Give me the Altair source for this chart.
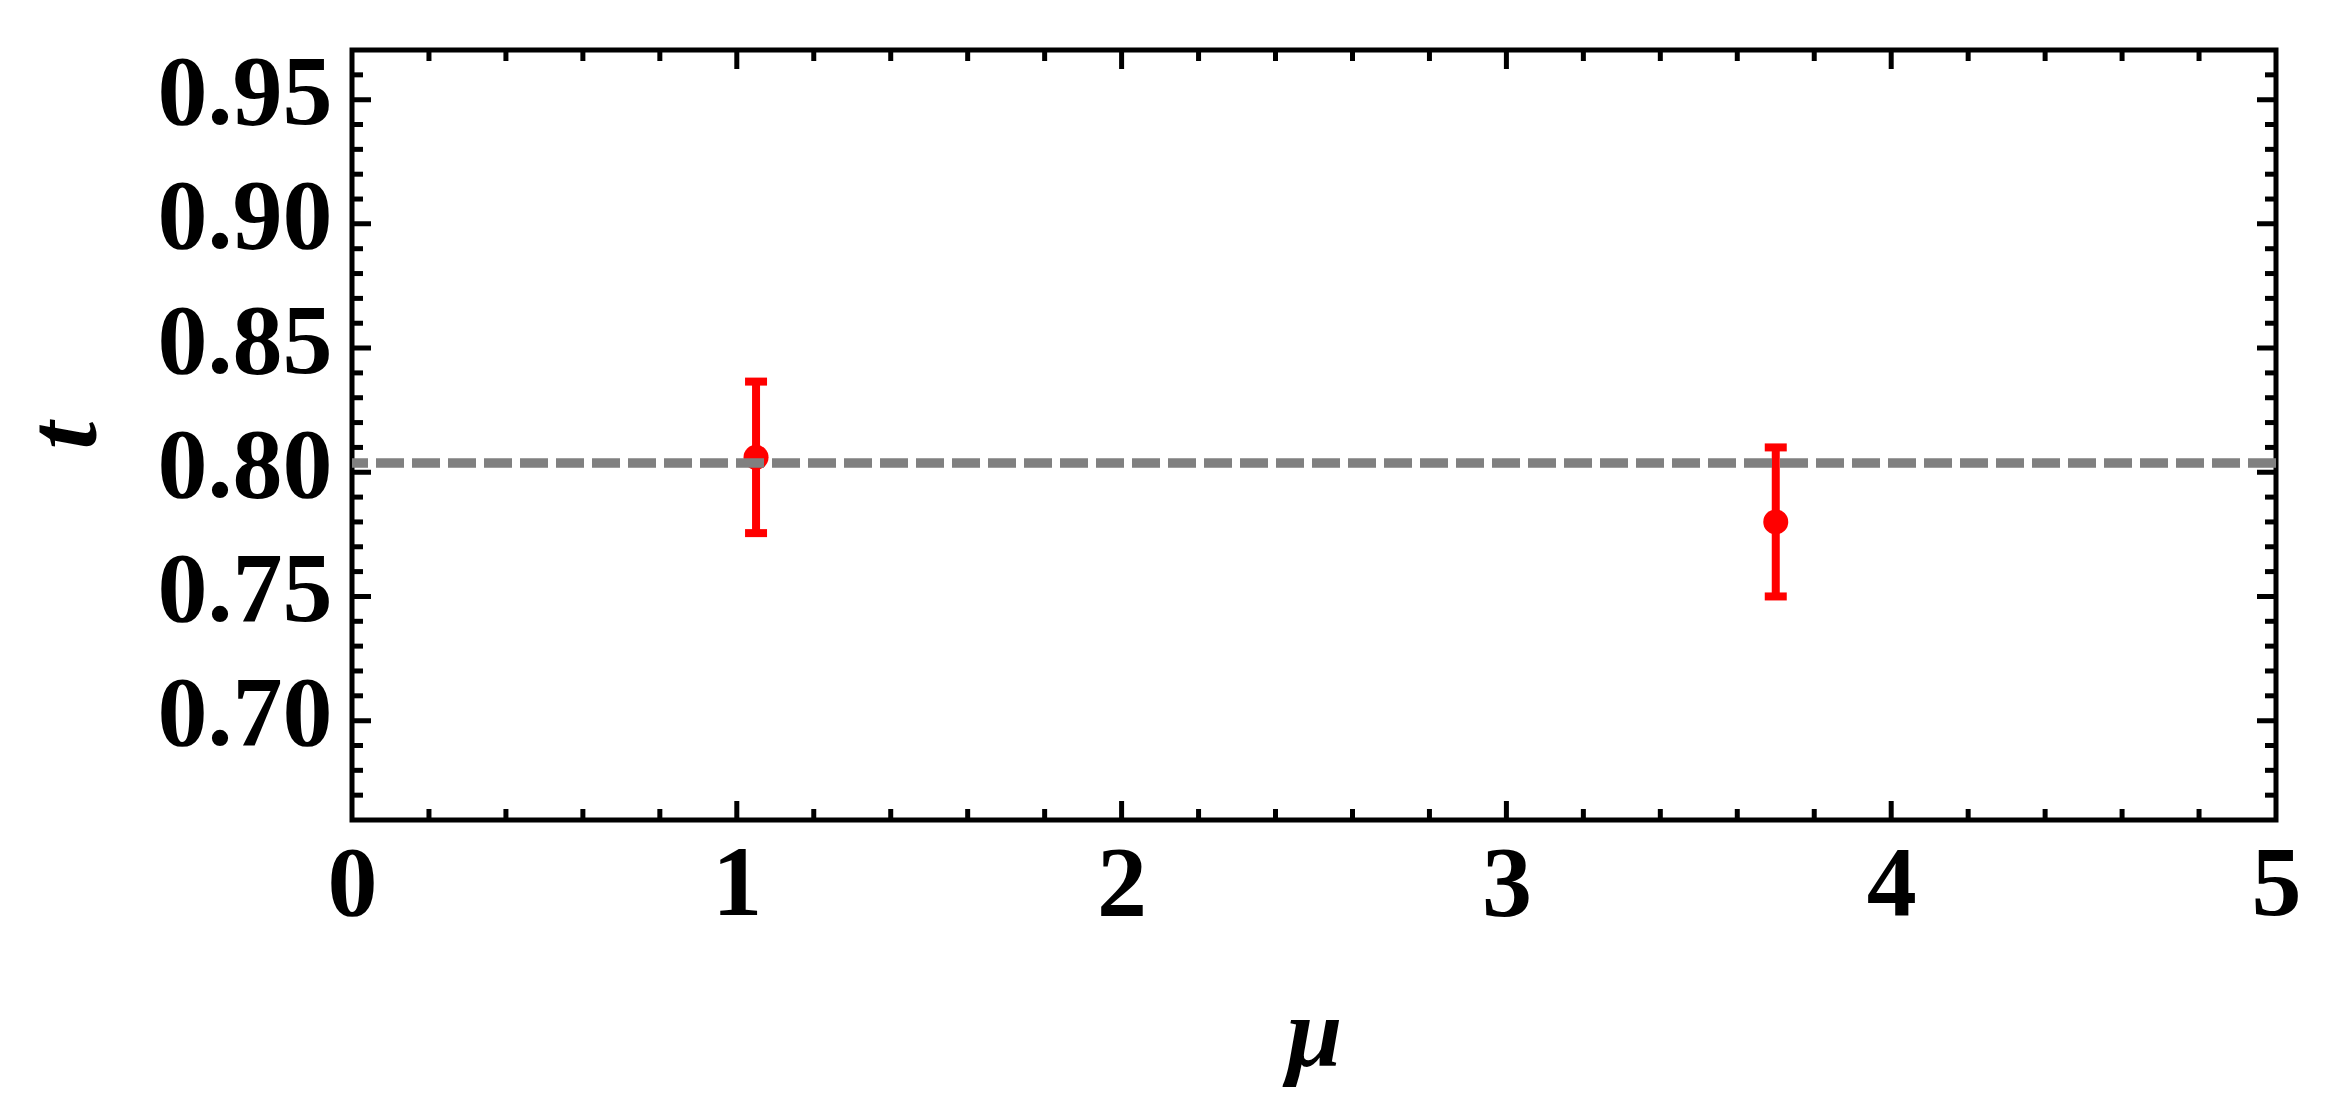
import altair as alt
import pandas as pd

# ---- data ----
mu = [1.05, 3.70]
t_val = [0.806, 0.780]
t_err = [0.0305, 0.030]
t_ref = [0.8037]

x_labels = [0, 1, 2, 3, 4, 5]
x_major_ticks = [1, 2, 3, 4]
x_minor_ticks = [0.2, 0.4, 0.6, 0.8, 1.2, 1.4, 1.6, 1.8, 2.2, 2.4, 2.6, 2.8,
                 3.2, 3.4, 3.6, 3.8, 4.2, 4.4, 4.6, 4.8]
y_labels = [0.70, 0.75, 0.80, 0.85, 0.90, 0.95]
y_minor_ticks = [0.67, 0.68, 0.69, 0.71, 0.72, 0.73, 0.74, 0.76, 0.77, 0.78, 0.79,
                 0.81, 0.82, 0.83, 0.84, 0.86, 0.87, 0.88, 0.89, 0.91, 0.92, 0.93,
                 0.94, 0.96]

X_MIN, X_MAX = 0, 5
Y_MIN, Y_MAX = 0.66, 0.97

df = pd.DataFrame({"mu": mu, "t": t_val, "err": t_err})
df["lo"] = df["t"] - df["err"]
df["hi"] = df["t"] + df["err"]
ref_df = pd.DataFrame({"t_ref": t_ref})

xs = alt.Scale(domain=[X_MIN, X_MAX], nice=False, zero=False)
ys = alt.Scale(domain=[Y_MIN, Y_MAX], nice=False, zero=False)

FONT = "Liberation Serif"
W, H = 1924, 770

x_axis = alt.Axis(values=x_labels, format="d", title="μ", ticks=False, tickSize=0,
                  domain=False, grid=False, labelFont=FONT, labelFontWeight="bold",
                  labelFontSize=100, labelColor="black", labelPadding=15,
                  labelFlush=False, labelOverlap=False,
                  titleFont=FONT, titleFontStyle="italic", titleFontWeight="bold",
                  titleFontSize=100, titleColor="black",
                  titleX=W / 2, titleY=245, titleAlign="center", titleBaseline="alphabetic")
y_axis = alt.Axis(values=y_labels, format=".2f", title="t", ticks=False, tickSize=0,
                  domain=False, grid=False, labelFont=FONT, labelFontWeight="bold",
                  labelFontSize=100, labelColor="black", labelPadding=20, labelOffset=-6,
                  labelFlush=False, labelOverlap=False,
                  titleFont=FONT, titleFontStyle="italic", titleFontWeight="bold",
                  titleFontSize=100, titleColor="black", titleAngle=270,
                  titleX=-287, titleY=H / 2, titleAlign="center", titleBaseline="middle")

base = alt.Chart(df)

err_rule = base.mark_rule(color="#ff0000", strokeWidth=8, opacity=1).encode(
    x=alt.X("mu:Q", scale=xs, axis=x_axis),
    y=alt.Y("lo:Q", scale=ys, axis=y_axis),
    y2="hi:Q",
)
cap_lo = base.mark_tick(color="#ff0000", orient="horizontal", size=22, thickness=8,
                        opacity=1).encode(
    x=alt.X("mu:Q", scale=xs, axis=x_axis),
    y=alt.Y("lo:Q", scale=ys, axis=y_axis),
)
cap_hi = base.mark_tick(color="#ff0000", orient="horizontal", size=22, thickness=8,
                        opacity=1).encode(
    x=alt.X("mu:Q", scale=xs, axis=x_axis),
    y=alt.Y("hi:Q", scale=ys, axis=y_axis),
)
points = base.mark_circle(color="#ff0000", size=625, opacity=1).encode(
    x=alt.X("mu:Q", scale=xs, axis=x_axis),
    y=alt.Y("t:Q", scale=ys, axis=y_axis),
)
ref_line = alt.Chart(ref_df).mark_rule(color="#808080", strokeWidth=9.5, opacity=1,
                                       strokeDash=[28, 8]).encode(
    y=alt.Y("t_ref:Q", scale=ys, axis=y_axis),
)


def xticks(values, edge, size):
    d = pd.DataFrame({"v": values})
    return alt.Chart(d).mark_tick(color="black", orient="vertical", size=size,
                                  thickness=5, opacity=1, clip=True).encode(
        x=alt.X("v:Q", scale=xs, axis=x_axis),
        y=alt.YDatum(edge, scale=ys, axis=y_axis, type="quantitative"),
    )


def yticks(values, edge, size):
    d = pd.DataFrame({"v": values})
    return alt.Chart(d).mark_tick(color="black", orient="horizontal", size=size,
                                  thickness=5, opacity=1, clip=True).encode(
        y=alt.Y("v:Q", scale=ys, axis=y_axis),
        x=alt.XDatum(edge, scale=xs, axis=x_axis, type="quantitative"),
    )


ticks = [
    xticks(x_major_ticks, Y_MIN, 38), xticks(x_minor_ticks, Y_MIN, 22),
    xticks(x_major_ticks, Y_MAX, 38), xticks(x_minor_ticks, Y_MAX, 22),
    yticks(y_labels, X_MIN, 38), yticks(y_minor_ticks, X_MIN, 22),
    yticks(y_labels, X_MAX, 38), yticks(y_minor_ticks, X_MAX, 22),
]

chart = alt.layer(err_rule, cap_lo, cap_hi, points, ref_line, *ticks).properties(
    width=W, height=H,
    background="white",
    autosize=alt.AutoSizeParams(type="none"),
    padding={"left": 344, "top": 42, "right": 40, "bottom": 280},
).configure_view(stroke="black", strokeWidth=5)

chart.save("out.html", embed_options={"renderer": "svg", "actions": False})
